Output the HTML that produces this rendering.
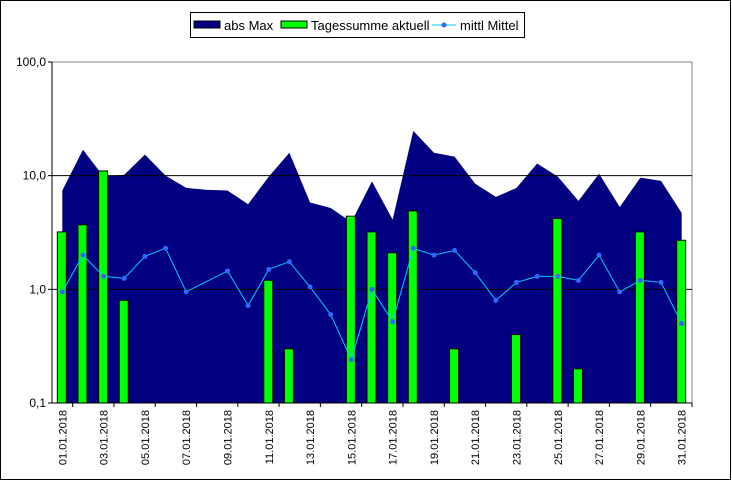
<!DOCTYPE html>
<html><head><meta charset="utf-8"><style>
body{margin:0;background:#fff}
svg{display:block;font-family:"Liberation Sans",Arial,sans-serif}
</style></head><body>
<svg id="chart" width="732" height="481">
<rect x="0.5" y="0.5" width="730" height="479" fill="#fff" stroke="#000"/>
<g id="plot"></g>
<g>
<rect x="190.5" y="12.5" width="334" height="25" fill="#fff" stroke="#000"/>
<rect x="194" y="21" width="26" height="7" fill="#000080" stroke="#000"/>
<text x="224" y="30" font-size="13">abs Max</text>
<rect x="281" y="21" width="26" height="7" fill="#00ff00" stroke="#000"/>
<text x="311" y="30" font-size="13">Tagessumme aktuell</text>
<line x1="432" y1="25" x2="456" y2="25" stroke="#00ccff"/>
<circle cx="444" cy="25" r="2.5" fill="#3366ff"/>
<text x="460" y="30" font-size="13">mittl Mittel</text>
</g>
</svg>
<script>
const days=[];for(let d=1;d<=31;d++)days.push((d<10?'0':'')+d+'.01.2018');
const absMax=[7.4,16.9,9.8,10.2,15.3,10,7.8,7.5,7.4,5.6,9.8,15.9,5.8,5.2,3.9,8.9,4.1,24.8,15.9,14.7,8.5,6.5,7.8,12.8,9.8,6.0,10.4,5.3,9.6,9.0,4.7];
const tagessumme=[3.2,3.7,11,0.8,0,0,0,0,0,0,1.2,0.3,0,0,4.4,3.2,2.1,4.9,0,0.3,0,0,0.4,0,4.2,0.2,0,0,3.2,0,2.7];
const mittel=[0.95,2.0,1.3,1.25,1.95,2.3,0.95,null,1.45,0.72,1.5,1.75,1.05,0.6,0.24,1.0,0.52,2.3,2.0,2.2,1.4,0.8,1.15,1.3,1.3,1.2,2.0,0.95,1.2,1.15,0.5];
const yTicks=[0.1,1,10,100];
const yLabels=['0,1','1,0','10,0','100,0'];
const L=52,R=692,T=62,B=403,n=days.length,cw=(R-L)/n;
const x=i=>L+cw*(i+0.5);
const y=v=>B-(Math.log10(v)+1)/3*(B-T);
const NS='http://www.w3.org/2000/svg',g=document.getElementById('plot');
function mk(t,a){const e=document.createElementNS(NS,t);for(const k in a)e.setAttribute(k,a[k]);g.appendChild(e);return e;}
mk('rect',{x:L,y:T,width:R-L,height:B-T,fill:'#fff',stroke:'#808080'});
// area
let d='M'+x(0)+','+B;absMax.forEach((v,i)=>d+=' L'+x(i)+','+y(v));d+=' L'+x(n-1)+','+B+'Z';
const area=mk('path',{d:d,fill:'#000080'});


// gridlines
[1,10].forEach(v=>{const l=mk('line',{x1:L,x2:R,y1:y(v),y2:y(v),stroke:'#000'});

});
// bars
tagessumme.forEach((v,i)=>{if(v<=0.1)return;const b=mk('rect',{x:x(i)-5,y:y(v),width:9,height:B-y(v),fill:'#00ff00',stroke:'#000'});

});
// line
let p='',prev=false;mittel.forEach((v,i)=>{if(v==null)return;p+=(p?' L':'M')+x(i)+','+y(v);});
const ln=mk('path',{d:p,fill:'none',stroke:'#00ccff','stroke-width':1});


mittel.forEach((v,i)=>{if(v==null)return;const c=mk('circle',{cx:x(i),cy:y(v),r:2.5,fill:'#3366ff'});

});
// axes
mk('line',{x1:L,x2:L,y1:T,y2:B,stroke:'#000'});
mk('line',{x1:L,x2:R,y1:B,y2:B,stroke:'#000'});
yTicks.forEach((v,i)=>{mk('line',{x1:L-4,x2:L,y1:y(v),y2:y(v),stroke:'#000'});
const t=mk('text',{x:L-6,y:y(v)+4,'font-size':12,'text-anchor':'end'});t.textContent=yLabels[i];

});
days.forEach((s,i)=>{if(i%2)return;
mk('line',{x1:L+cw*(i+1),x2:L+cw*(i+1),y1:B,y2:B+4,stroke:'#000'});
const t=mk('text',{x:0,y:0,'font-size':11,'text-anchor':'end',transform:'translate('+(x(i)+4)+','+(B+7)+') rotate(-90)'});t.textContent=s;

});
</script>
</body></html>
